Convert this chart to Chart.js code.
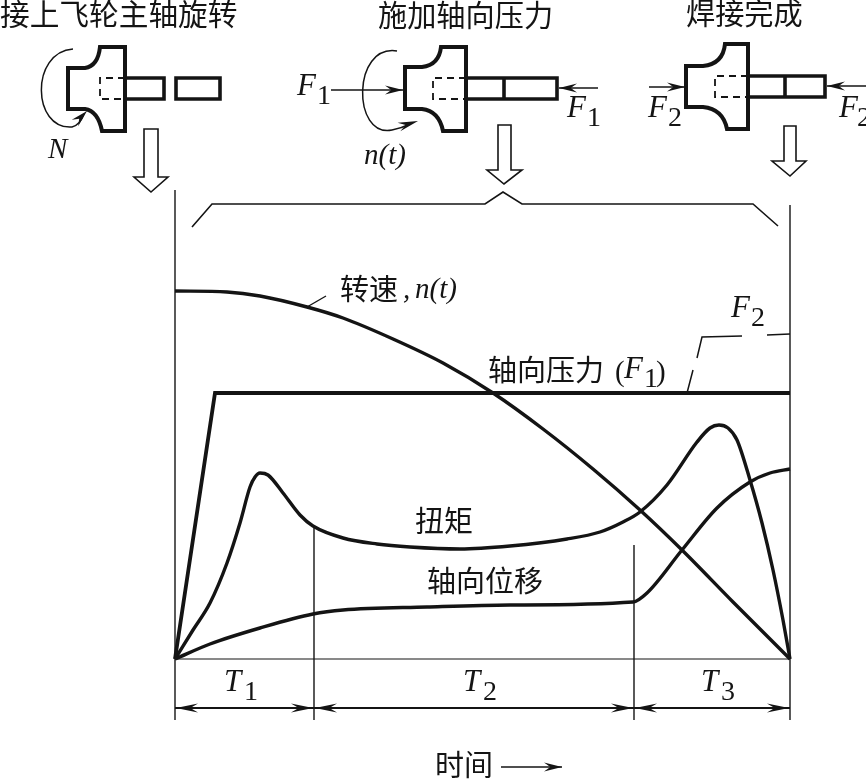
<!DOCTYPE html>
<html lang="zh">
<head>
<meta charset="utf-8">
<title>惯性摩擦焊</title>
<script src="https://cdn.jsdelivr.net/npm/chart.js@4/dist/chart.umd.min.js"></script>
<style>
html, body { margin: 0; padding: 0; background: #fff; }
canvas { display: block; }
</style>
</head>
<body>
<canvas id="weldChart" width="866" height="779"></canvas>
<script>
// Curve readings: time runs 0-615 across the weld, values are relative heights
const speedTime = [0, 52, 85, 132, 168, 218, 268, 318, 368, 418, 465, 507, 558, 615];
const speedValue = [368, 367, 363, 352, 341, 320, 296, 266, 230, 190, 149, 109, 57, 0];

const forceTime = [0, 40, 615];
const forceValue = [0, 266, 266];

const force2Time = [512, 518, 520, 522, 527, 567, 580, 592, 615];
const force2Value = [266, 289, null, 301, 322, 323, null, 324, 325];

const torqueTime = [0, 18, 35, 52, 65, 75, 80, 85, 93, 108, 125, 138, 168, 202, 235, 285, 335, 392, 425, 448, 465, 492, 522, 535, 544, 553, 562, 575, 587, 598, 608, 615];
const torqueValue = [0, 29, 56, 96, 136, 172, 182, 186, 184, 166, 144, 133, 121, 115, 112, 110, 113, 120, 127, 137, 147, 174, 217, 231, 234, 231, 219, 179, 136, 89, 39, 0];

const travelTime = [0, 35, 85, 138, 168, 252, 335, 458, 472, 507, 542, 575, 595, 615];
const travelValue = [0, 15, 31, 45, 49, 52, 54, 57, 66, 109, 151, 177, 186, 190];

// Phase boundaries and how far each guide line rises
const phaseTime = [0, 139, 459, 615];
const guideTop = [469, 133, 114, 454];
const guideBottom = -61;
const dimensionValue = -49;

const titles = ['接上飞轮主轴旋转', '施加轴向压力', '焊接完成'];
const curveLabels = ['转速', '轴向压力', '扭矩', '轴向位移'];
const phaseLabels = ['T', 'T', 'T'];
const phaseSubs = ['1', '2', '3'];
const timeLabel = '时间';

const INK = '#141414';
const CJK = '"Noto Sans CJK SC"';
const SERIF = '"Liberation Serif"';

function toPoints(xs, ys) {
    return xs.map((x, i) => ({ x: x, y: ys[i] }));
}

function guidePoints() {
    const pts = [];
    phaseTime.forEach((t, i) => {
        pts.push({ x: t, y: guideTop[i] }, { x: t, y: guideBottom }, { x: t, y: null });
    });
    return pts;
}

function polyline(ctx, pts, width, close) {
    ctx.lineWidth = width;
    ctx.beginPath();
    pts.forEach((p, i) => (i ? ctx.lineTo(p[0], p[1]) : ctx.moveTo(p[0], p[1])));
    if (close) ctx.closePath();
    ctx.stroke();
}

// Barbed arrow head pointing along the segment from (fx,fy) to (tx,ty)
function arrowHead(ctx, fx, fy, tx, ty, len, half) {
    const a = Math.atan2(ty - fy, tx - fx);
    const c = Math.cos(a), s = Math.sin(a);
    ctx.beginPath();
    ctx.moveTo(tx, ty);
    ctx.lineTo(tx - len * c + half * s, ty - len * s - half * c);
    ctx.lineTo(tx - len * 0.65 * c, ty - len * 0.65 * s);
    ctx.lineTo(tx - len * c - half * s, ty - len * s + half * c);
    ctx.closePath();
    ctx.fill();
}

function arrowLine(ctx, fx, fy, tx, ty, width) {
    polyline(ctx, [[fx, fy], [tx, ty]], width);
    arrowHead(ctx, fx, fy, tx, ty, 18, 4.5);
}

function hollowArrow(ctx, x0, x1, top, neck, hx0, hx1, tipX, tipY) {
    polyline(ctx, [[x0, top], [x1, top], [x1, neck], [hx1, neck], [tipX, tipY], [hx0, neck], [x0, neck]], 1.6, true);
}

function flywheel(ctx, p) {
    ctx.lineWidth = 4;
    ctx.lineJoin = 'miter';
    ctx.beginPath();
    ctx.moveTo(p.face, p.top);
    ctx.lineTo(p.face + 17, p.top);
    ctx.quadraticCurveTo(p.flangeL - 2, p.top - 2, p.flangeL, p.flangeTop);
    ctx.lineTo(p.flangeR, p.flangeTop);
    ctx.lineTo(p.flangeR, p.flangeBottom);
    ctx.lineTo(p.flangeL + 2, p.flangeBottom);
    ctx.quadraticCurveTo(p.flangeL - 2, p.bottom + 2, p.face + 17, p.bottom);
    ctx.lineTo(p.face, p.bottom);
    ctx.closePath();
    ctx.stroke();

    // bore shown dashed inside the hub
    ctx.setLineDash([7, 5]);
    polyline(ctx, [[p.flangeR, p.shaftTop], [p.bore, p.shaftTop], [p.bore, p.shaftBottom], [p.flangeR, p.shaftBottom]], 1.8);
    ctx.setLineDash([]);
}

function bar(ctx, x0, x1, y0, y1) {
    polyline(ctx, [[x0, y0], [x1, y0], [x1, y1], [x0, y1]], 3.6, true);
}

function text(ctx, str, x, y, font) {
    ctx.font = font;
    ctx.fillText(str, x, y);
}

function subscripted(ctx, letter, sub, x, y, subDx) {
    text(ctx, letter, x, y, 'italic 31px ' + SERIF);
    text(ctx, sub, x + subDx, y + 9, '28px ' + SERIF);
}

// Everything round the curves: the three weld stages, captions and dimension lines
const sketchPlugin = {
    id: 'sketch',
    afterDatasetsDraw(chart) {
        const ctx = chart.ctx;
        const sx = chart.scales.x;
        const sy = chart.scales.y;
        ctx.save();
        ctx.strokeStyle = INK;
        ctx.fillStyle = INK;
        ctx.lineCap = 'butt';

        text(ctx, titles[0], 0, 25, '29.7px ' + CJK);
        text(ctx, titles[1], 378, 26, '29.2px ' + CJK);
        text(ctx, titles[2], 686, 24, '29.2px ' + CJK);

        // stage 1
        flywheel(ctx, { face: 68, top: 68, bottom: 109, flangeL: 100, flangeR: 125, flangeTop: 47, flangeBottom: 131, bore: 100, shaftTop: 78, shaftBottom: 99 });
        bar(ctx, 125, 164, 78, 99);
        bar(ctx, 176, 220, 78, 99);
        ctx.lineWidth = 1.5;
        ctx.beginPath();
        ctx.moveTo(73, 49);
        ctx.bezierCurveTo(30, 52, 32, 130, 72, 127);
        ctx.quadraticCurveTo(80, 125, 84, 114);
        ctx.stroke();
        arrowHead(ctx, 72, 126, 87, 111, 17, 4.5);
        text(ctx, 'N', 48, 158, 'italic 29px ' + SERIF);

        // stage 2
        flywheel(ctx, { face: 405, top: 67, bottom: 109, flangeL: 441, flangeR: 466, flangeTop: 47, flangeBottom: 131, bore: 433, shaftTop: 78, shaftBottom: 99 });
        bar(ctx, 466, 557, 78, 99);
        polyline(ctx, [[504, 78], [504, 99]], 3.6);
        ctx.lineWidth = 1.5;
        ctx.beginPath();
        ctx.moveTo(397, 51);
        ctx.bezierCurveTo(352, 44, 352, 138, 392, 130);
        ctx.quadraticCurveTo(402, 128, 410, 124);
        ctx.stroke();
        arrowHead(ctx, 396, 128, 418, 121, 20, 4.5);
        arrowLine(ctx, 331, 90, 403, 90, 1.5);
        arrowLine(ctx, 598, 88, 559, 88, 1.5);
        subscripted(ctx, 'F', '1', 297, 95, 20);
        subscripted(ctx, 'F', '1', 567, 117, 20);
        text(ctx, 'n(t)', 364, 164, 'italic 29px ' + SERIF);

        // stage 3
        flywheel(ctx, { face: 686, top: 66, bottom: 107, flangeL: 725, flangeR: 748, flangeTop: 44, flangeBottom: 129, bore: 715, shaftTop: 76, shaftBottom: 97 });
        bar(ctx, 748, 825, 76, 97);
        polyline(ctx, [[785, 76], [785, 97]], 3.6);
        arrowLine(ctx, 649, 87, 685, 87, 1.5);
        arrowLine(ctx, 866, 86, 827, 86, 1.5);
        subscripted(ctx, 'F', '2', 648, 117, 20);
        subscripted(ctx, 'F', '2', 839, 117, 18);

        // hollow arrows and the brace
        hollowArrow(ctx, 144, 158, 129, 177, 134, 168, 151, 192);
        hollowArrow(ctx, 498, 511, 125, 170, 487, 522, 504, 184);
        hollowArrow(ctx, 784, 796, 126, 161, 772, 806, 790, 176);
        polyline(ctx, [[192, 227], [212, 204], [485, 204], [503, 192], [522, 204], [753, 204], [778, 226]], 1.6);

        // curve captions
        text(ctx, curveLabels[0], 340, 300, '29px ' + CJK);
        text(ctx, ',', 403, 298, 'italic 29px ' + SERIF);
        text(ctx, 'n(t)', 415, 298, 'italic 29px ' + SERIF);
        text(ctx, curveLabels[1], 488, 381, '29px ' + CJK);
        text(ctx, '(', 615, 381, '29px ' + SERIF);
        subscripted(ctx, 'F', '1', 624, 378, 20);
        text(ctx, ')', 656, 381, '29px ' + SERIF);
        text(ctx, curveLabels[2], 415, 532, '29px ' + CJK);
        text(ctx, curveLabels[3], 427, 592, '29px ' + CJK);
        subscripted(ctx, 'F', '2', 731, 317, 20);

        // phase dimensions under the baseline
        const dimY = sy.getPixelForValue(dimensionValue);
        const labelX = [224, 463, 701];
        phaseLabels.forEach((label, i) => {
            const a = sx.getPixelForValue(phaseTime[i]);
            const b = sx.getPixelForValue(phaseTime[i + 1]);
            polyline(ctx, [[a, dimY], [b, dimY]], 2);
            arrowHead(ctx, b, dimY, a + 1, dimY, 22, 4.5);
            arrowHead(ctx, a, dimY, b - 1, dimY, 22, 4.5);
            subscripted(ctx, label, phaseSubs[i], labelX[i], 691, 20);
        });

        text(ctx, timeLabel, 435, 776, '29px ' + CJK);
        arrowLine(ctx, 501, 767, 562, 767, 1.5);
        ctx.restore();
    }
};

new Chart(document.getElementById('weldChart'), {
    type: 'line',
    plugins: [sketchPlugin],
    data: {
        datasets: [
            { label: '坐标线', data: guidePoints(), borderColor: INK, borderWidth: 1.4, tension: 0, pointRadius: 0 },
            { label: '基线', data: toPoints([0, 615], [0, 0]), borderColor: INK, borderWidth: 1.2, tension: 0, pointRadius: 0 },
            { label: '转速引线', data: toPoints([132, 151], [352, 363]), borderColor: INK, borderWidth: 1.4, tension: 0, pointRadius: 0 },
            { label: '转速', data: toPoints(speedTime, speedValue), borderColor: INK, borderWidth: 3.4, cubicInterpolationMode: 'monotone', pointRadius: 0 },
            { label: '轴向压力', data: toPoints(forceTime, forceValue), borderColor: INK, borderWidth: 3.8, tension: 0, pointRadius: 0 },
            { label: 'F2', data: toPoints(force2Time, force2Value), borderColor: INK, borderWidth: 1.5, tension: 0, pointRadius: 0 },
            { label: '扭矩', data: toPoints(torqueTime, torqueValue), borderColor: INK, borderWidth: 3.4, cubicInterpolationMode: 'monotone', pointRadius: 0 },
            { label: '轴向位移', data: toPoints(travelTime, travelValue), borderColor: INK, borderWidth: 3.4, cubicInterpolationMode: 'monotone', pointRadius: 0 }
        ]
    },
    options: {
        responsive: false,
        animation: false,
        layout: { padding: 0 },
        plugins: { legend: { display: false }, tooltip: { enabled: false } },
        scales: {
            x: { type: 'linear', display: false, min: -175, max: 691 },
            y: { type: 'linear', display: false, min: -120, max: 659 }
        }
    }
});
</script>
</body>
</html>
